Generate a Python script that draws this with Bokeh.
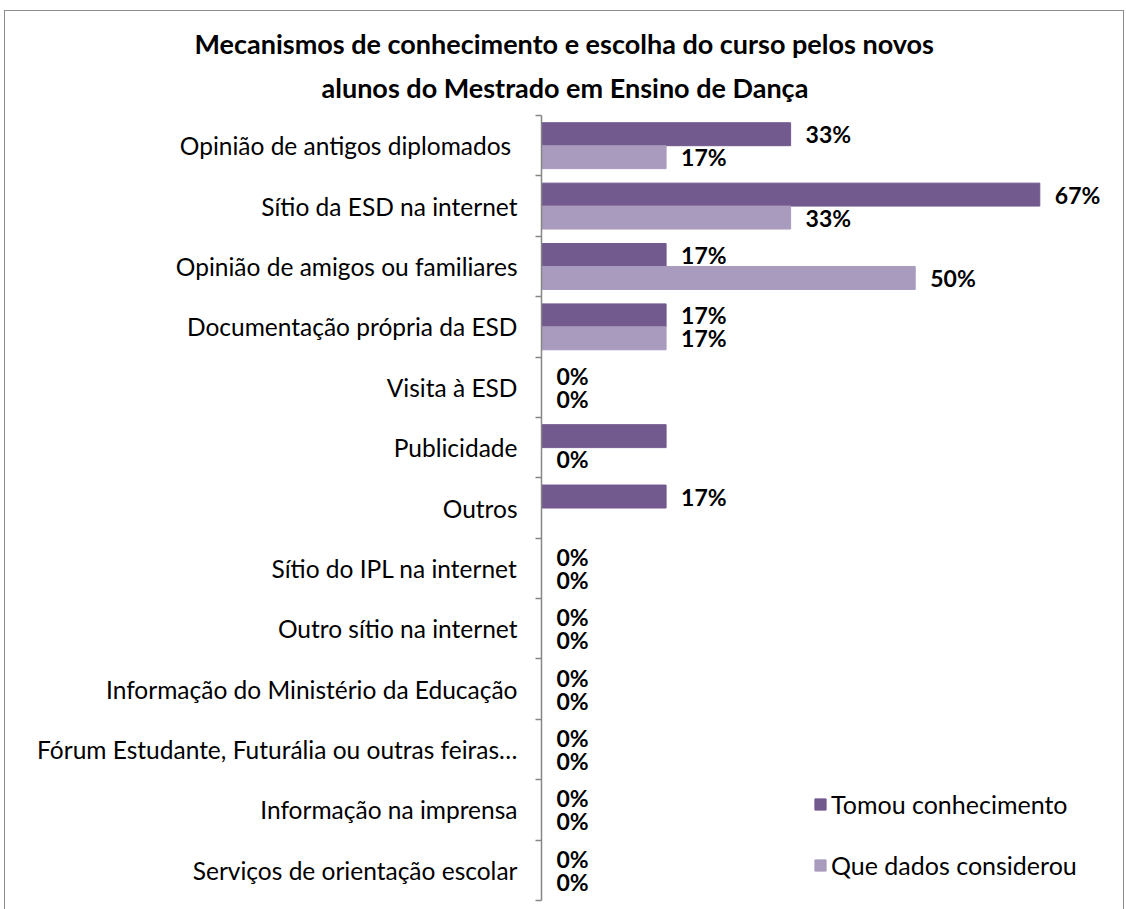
import numpy as np
from bokeh.plotting import figure
from bokeh.models import (Range1d, FixedTicker, ColumnDataSource, Title, Legend, LegendItem)
from bokeh.core.properties import value
from bokeh.embed import file_html
from bokeh.resources import INLINE

categories = [
    "Opinião de antigos diplomados ",
    "Sítio da ESD na internet",
    "Opinião de amigos ou familiares",
    "Documentação própria da ESD",
    "Visita à ESD",
    "Publicidade",
    "Outros",
    "Sítio do IPL na internet",
    "Outro sítio na internet",
    "Informação do Ministério da Educação",
    "Fórum Estudante, Futurália ou outras feiras…",
    "Informação na imprensa",
    "Serviços de orientação escolar",
]
tomou = [33.33, 66.67, 16.67, 16.67, 0, 16.67, 16.67, 0, 0, 0, 0, 0, 0]
considerou = [16.67, 33.33, 50.0, 16.67, 0, 0, np.nan, 0, 0, 0, 0, 0, 0]
tomou_labels = ["33%", "67%", "17%", "17%", "0%", "", "17%", "0%", "0%", "0%", "0%", "0%", "0%"]
considerou_labels = ["17%", "33%", "50%", "17%", "0%", "0%", "", "0%", "0%", "0%", "0%", "0%", "0%"]
series_names = ["Tomou conhecimento", "Que dados considerou"]
title_lines = ["Mecanismos de conhecimento e escolha do curso pelos novos",
               "alunos do Mestrado em Ensino de Dança"]

DARK = "#72598e"
LIGHT = "#a99bbd"
FONT = "Lato"

n = len(categories)
centers = [n - i - 0.5 for i in range(n)]
boundaries = list(range(n + 1))

p = figure(width=1118, height=898, output_backend="svg", toolbar_location=None,
           x_range=Range1d(0, 77.2), y_range=Range1d(0, n),
           min_border_left=536, min_border_right=5, min_border_top=104,
           min_border_bottom=9)
p.xaxis.visible = False
p.grid.visible = False
p.outline_line_color = None
p.background_fill_color = "white"
p.border_fill_color = "white"
p.styles = {"outline": "1.5px solid #8c8c8c", "outline-offset": "0px",
            "margin-left": "5px", "margin-top": "11px"}

ax = p.yaxis[0]
ax.ticker = FixedTicker(ticks=centers, minor_ticks=boundaries)
ax.major_label_overrides = {c: lab for c, lab in zip(centers, categories)}
ax.major_tick_line_color = None
ax.major_tick_out = 0
ax.major_tick_in = 0
ax.minor_tick_line_color = "#868686"
ax.minor_tick_out = 6
ax.minor_tick_in = 0
ax.minor_tick_line_width = 1.5
ax.axis_line_color = "#868686"
ax.axis_line_width = 1.5
ax.major_label_text_font = FONT
ax.major_label_text_font_size = "24.5px"
ax.major_label_text_color = "#000000"
ax.major_label_standoff = 18

src = ColumnDataSource(dict(
    y_t=[c + 0.19 for c in centers],
    y_c=[c - 0.19 for c in centers],
    tomou=tomou, considerou=considerou,
    lt=tomou_labels, lc=considerou_labels,
))

r1 = p.hbar(y="y_t", right="tomou", left=0, height=0.38, source=src,
            fill_color=DARK, line_color=DARK)
r2 = p.hbar(y="y_c", right="considerou", left=0, height=0.38, source=src,
            fill_color=LIGHT, line_color=LIGHT)

for xcol, ycol, lcol in [("tomou", "y_t", "lt"), ("considerou", "y_c", "lc")]:
    p.text(x=xcol, y=ycol, text=lcol, source=src, x_offset=15,
           text_font=value(FONT), text_font_style="bold", text_font_size="23px",
           text_baseline="middle", text_align="left", text_color="#000000")

# Title (two lines; later-added title sits farther from the frame)
for txt, off, so in [(title_lines[1], -220, 23), (title_lines[0], -347, -5)]:
    p.add_layout(Title(text=txt, align="left", offset=off, standoff=so,
                       text_font=FONT, text_font_style="bold",
                       text_font_size="27px", text_color="#000000"), "above")

legend = Legend(items=[LegendItem(label=series_names[0], renderers=[r1]),
                       LegendItem(label=series_names[1], renderers=[r2])],
                location=(272, 20))
legend.background_fill_alpha = 0
legend.border_line_color = None
legend.padding = 0
legend.margin = 0
legend.spacing = 31
legend.glyph_width = 14
legend.glyph_height = 14
legend.label_standoff = 4
legend.label_text_font = FONT
legend.label_text_font_size = "25px"
legend.label_text_color = "#000000"
p.add_layout(legend)

open("out.html", "w").write(file_html(p, INLINE))
